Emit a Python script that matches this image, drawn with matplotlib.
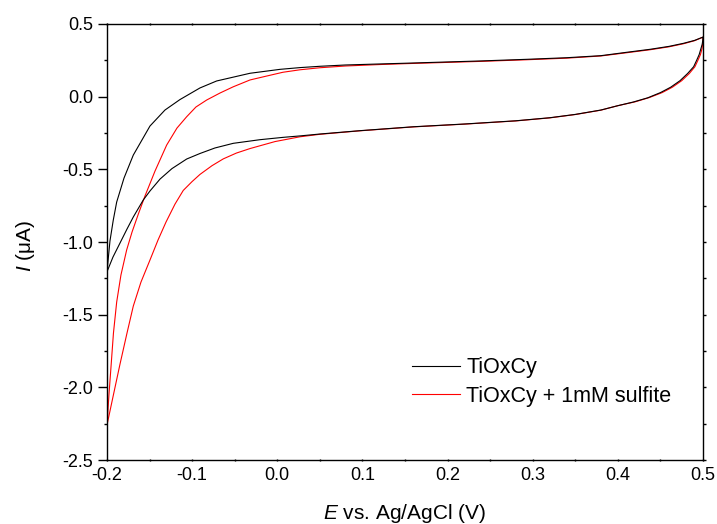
import matplotlib
matplotlib.use('Agg')
import matplotlib.pyplot as plt
from matplotlib.ticker import MultipleLocator

# ── Cyclic voltammograms (E in V, I in uA) ──
# each curve: anodic sweep -0.2 -> 0.5, then cathodic sweep 0.5 -> -0.2
e_black = [-0.200, -0.1965, -0.1926, -0.1886, -0.1800, -0.1691, -0.1495, -0.1319,
           -0.1143, -0.0908, -0.0712, -0.0320, 0.0032, 0.0267, 0.05, 0.08, 0.12, 0.15,
           0.24, 0.293, 0.34, 0.38, 0.41, 0.438, 0.46, 0.477, 0.49, 0.500,
           0.4998, 0.499, 0.4975, 0.4955, 0.4925, 0.489, 0.482, 0.473, 0.462, 0.45,
           0.435, 0.418, 0.40, 0.38, 0.35, 0.32, 0.28, 0.22, 0.16, 0.097, 0.05,
           0.0267, 0.0067, -0.0203, -0.0517, -0.0732, -0.0908, -0.1064, -0.1237,
           -0.1377, -0.1495, -0.1574, -0.1691, -0.1765, -0.1847, -0.1930, -0.200]
i_black = [-1.205, -0.993, -0.849, -0.725, -0.560, -0.402, -0.202, -0.092,
           -0.020, 0.060, 0.108, 0.161, 0.188, 0.200, 0.209, 0.218, 0.225, 0.230,
           0.246, 0.257, 0.268, 0.282, 0.305, 0.326, 0.346, 0.367, 0.387, 0.410,
           0.39, 0.36, 0.33, 0.29, 0.25, 0.206, 0.16, 0.11, 0.065, 0.028,
           -0.008, -0.037, -0.062, -0.092, -0.122, -0.145, -0.166, -0.188, -0.207, -0.234, -0.257,
           -0.270, -0.280, -0.296, -0.321, -0.353, -0.391, -0.429, -0.495,
           -0.567, -0.649, -0.711, -0.828, -0.911, -1.007, -1.104, -1.205]

e_red = [-0.200, -0.1977, -0.1953, -0.1924, -0.1886, -0.1836, -0.1769, -0.1706,
         -0.1632, -0.1554, -0.1436, -0.1299, -0.1178, -0.1064, -0.0955, -0.0829,
         -0.0673, -0.0517, -0.0320, -0.0124, 0.0067, 0.0267, 0.05, 0.08, 0.12, 0.15,
         0.24, 0.293, 0.34, 0.38, 0.41, 0.438, 0.46, 0.477, 0.49, 0.500,
         0.4997, 0.4988, 0.497, 0.494, 0.4905, 0.484, 0.475, 0.464, 0.452, 0.437,
         0.42, 0.40, 0.38, 0.35, 0.32, 0.28, 0.22, 0.16, 0.097, 0.05,
         0.0267, -0.0027, -0.0320, -0.048, -0.0634, -0.0767, -0.0908, -0.1002, -0.1104,
         -0.1201, -0.1307, -0.1401, -0.1495, -0.1601, -0.1691, -0.1765, -0.1847,
         -0.1930, -0.200]
i_red = [-2.26, -2.053, -1.861, -1.627, -1.413, -1.227, -1.055, -0.932,
         -0.808, -0.684, -0.512, -0.333, -0.216, -0.138, -0.071, -0.023,
         0.025, 0.068, 0.115, 0.142, 0.168, 0.185, 0.199, 0.211, 0.221, 0.227,
         0.243, 0.254, 0.265, 0.280, 0.302, 0.323, 0.343, 0.364, 0.385, 0.410,
         0.37, 0.33, 0.29, 0.25, 0.206, 0.16, 0.11, 0.065, 0.028, -0.006,
         -0.036, -0.062, -0.093, -0.123, -0.146, -0.167, -0.189, -0.208, -0.235, -0.259,
         -0.276, -0.309, -0.357, -0.388, -0.428, -0.475, -0.535, -0.585, -0.645,
         -0.739, -0.863, -0.987, -1.124, -1.276, -1.441, -1.627, -1.840,
         -2.067, -2.26]

labels = ['TiOxCy', 'TiOxCy + 1mM sulfite']
x_ticks = [-0.2, -0.1, 0.0, 0.1, 0.2, 0.3, 0.4, 0.5]
y_ticks = [-2.5, -2.0, -1.5, -1.0, -0.5, 0.0, 0.5]

plt.rcParams['font.family'] = ['Liberation Sans', 'DejaVu Sans']
plt.rcParams['mathtext.fontset'] = 'custom'
plt.rcParams['mathtext.rm'] = 'Liberation Sans'
plt.rcParams['mathtext.it'] = 'Liberation Sans:italic'
plt.rcParams['axes.unicode_minus'] = False

fig = plt.figure(figsize=(7.17, 5.24), dpi=100)
ax = fig.add_axes([0.1492, 0.1221, 0.8313, 0.8321])

ax.plot(e_black, i_black, color='black', lw=0.8, label=labels[0], zorder=3)
ax.plot(e_red, i_red, color='#ff0000', lw=0.8, label=labels[1], zorder=2)

ax.set_xlim(-0.2, 0.5)
ax.set_ylim(-2.5, 0.5)
ax.set_xticks(x_ticks)
ax.set_yticks(y_ticks)
ax.xaxis.set_minor_locator(MultipleLocator(0.05))
ax.yaxis.set_minor_locator(MultipleLocator(0.25))
ax.set_xticklabels([f'{v:.1f}' for v in x_ticks])
ax.set_yticklabels([f'{v:.1f}' for v in y_ticks])

for s in ax.spines.values():
    s.set_linewidth(1.0)

# Origin-style ticks: long outward ticks on the left, short marks elsewhere
ax.tick_params(axis='y', which='major', direction='out', length=6.5, width=1.0,
               labelsize=13, pad=3.5, right=True)
ax.tick_params(axis='y', which='minor', direction='out', length=2.2, width=1.0, right=True)
ax.tick_params(axis='x', which='both', direction='inout', length=1.5, width=1.0,
               top=True, labelsize=13, pad=4.0)
for t in ax.yaxis.get_major_ticks() + ax.yaxis.get_minor_ticks():
    t.tick2line.set_markersize(2.2)

ax.set_xlabel(r'$\it{E}$ vs. Ag/AgCl (V)', fontsize=15)
ax.set_ylabel(r'$\it{I}$ (μA)', fontsize=15)
ax.xaxis.set_label_coords(0.5, -0.097)
ax.yaxis.set_label_coords(-0.117, 0.491)

ax.legend(loc='center left', bbox_to_anchor=(0.511, 0.179), frameon=False,
          fontsize=15.5, handlelength=2.25, handletextpad=0.3, labelspacing=0.36,
          borderpad=0, borderaxespad=0)

fig.savefig('out.png', dpi=100)
